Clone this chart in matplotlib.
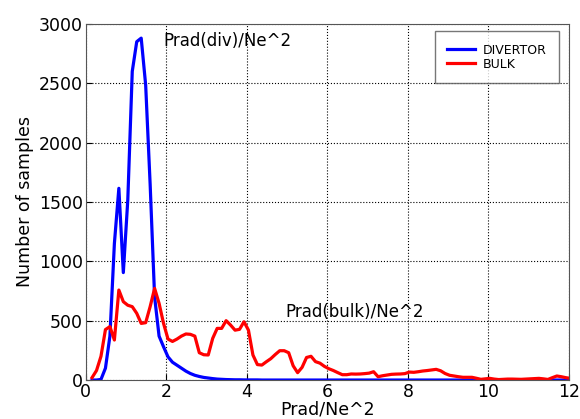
import matplotlib
matplotlib.use("Agg")
import matplotlib.pyplot as plt
import numpy as np

# -----------------------------------------------------------------------------
# Histogram values (bin step ~0.111, starting 0.154)
# -----------------------------------------------------------------------------
bin_start = 0.154
bin_step = 0.111

divertor_counts = [
    0, 0, 5, 100, 370, 1150, 1615, 905, 1517, 2600,
    2850, 2880, 2485, 1650, 700, 370, 280, 195, 150, 125,
    100, 75, 55, 40, 30, 22, 17, 12, 8, 6,
    4, 3, 2, 2, 1, 1, 1, 1, 0, 0,
    0, 0, 0, 0, 0, 0, 0, 0, 0, 0,
    0, 0, 0, 0, 0, 0, 0, 0, 0, 0,
    0, 0, 0, 0, 0, 0, 0, 0, 0, 0,
    0, 0, 0, 0, 0, 0, 0, 0, 0, 0,
    0, 0, 0, 0, 0, 0, 0, 0, 0, 0,
    0, 0, 0, 0, 0, 0, 0, 0, 0, 0,
    0, 0, 0, 0, 0, 0, 0, 0,
]

bulk_counts = [
    20, 80, 200, 425, 450, 337, 758, 660, 630, 618,
    562, 477, 483, 618, 772, 646, 477, 345, 325, 345,
    370, 388, 385, 370, 230, 213, 211, 351, 435, 435,
    500, 463, 420, 427, 491, 420, 211, 130, 126, 154,
    180, 215, 247, 247, 230, 120, 62, 107, 190, 200,
    155, 142, 115, 95, 80, 62, 45, 45, 51, 50,
    51, 54, 58, 70, 28, 36, 42, 48, 50, 51,
    54, 67, 65, 70, 76, 80, 85, 90, 78, 55,
    40, 34, 28, 23, 23, 23, 15, 6, 10, 14,
    8, 4, 6, 8, 8, 7, 6, 8, 10, 12,
    14, 10, 5, 20, 34, 28, 20, 14,
]

x_bins = bin_start + bin_step * np.arange(len(bulk_counts))

# -----------------------------------------------------------------------------
# Plot
# -----------------------------------------------------------------------------
plt.rcParams["font.family"] = "DejaVu Sans"

fig = plt.figure(figsize=(5.8, 4.19), dpi=100)
ax = fig.add_axes([0.148, 0.093, 0.833, 0.850])

ax.plot(x_bins, divertor_counts, color="#0000ff", lw=2.3, label="DIVERTOR")
ax.plot(x_bins, bulk_counts, color="#ff0000", lw=2.3, label="BULK")

ax.set_xlim(0, 12)
ax.set_ylim(0, 3000)
ax.set_xticks(np.arange(0, 13, 2))
ax.set_yticks(np.arange(0, 3001, 500))

ax.grid(True, color="black", linestyle=":", linewidth=0.8)
ax.tick_params(direction="in", labelsize=12.5, pad=2, length=4)
for spine in ax.spines.values():
    spine.set_color("#555555")

ax.set_xlabel("Prad/Ne^2", fontsize=12.5, labelpad=0)
ax.set_ylabel("Number of samples", fontsize=12.5, labelpad=4)

ax.text(1.92, 2860, "Prad(div)/Ne^2", fontsize=12, va="center", ha="left")
ax.text(4.95, 573, "Prad(bulk)/Ne^2", fontsize=12, va="center", ha="left")

leg = ax.legend(loc="upper right", fontsize=9, fancybox=False,
                borderpad=1.0, handlelength=2.2, handletextpad=0.6,
                labelspacing=0.1, borderaxespad=0,
                bbox_to_anchor=(0.979, 0.980))
leg.get_frame().set_edgecolor("#555555")

fig.savefig("out.png", dpi=100)
